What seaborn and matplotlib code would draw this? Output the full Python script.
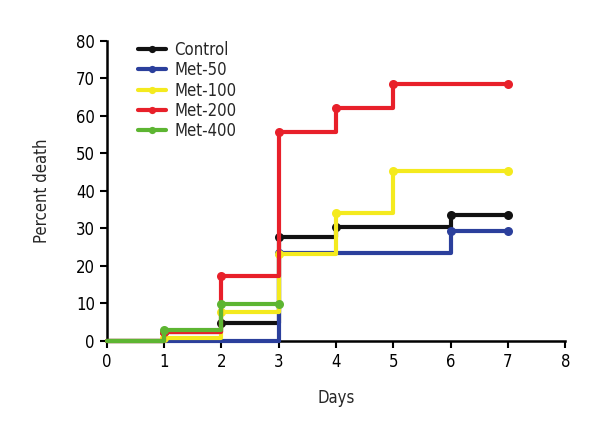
import pandas as pd
import matplotlib
matplotlib.use('Agg')
import matplotlib.pyplot as plt
import seaborn as sns

# Step points (day, percent death)
groups = ['Control', 'Met-50', 'Met-100', 'Met-200', 'Met-400']
control_days = [0, 1, 2, 3, 4, 6, 7]
control_vals = [0, 2.3, 4.7, 27.8, 30.3, 33.6, 33.6]
met50_days = [0, 3, 6, 7]
met50_vals = [0, 23.5, 29.3, 29.3]
met100_days = [0, 1, 2, 3, 4, 5, 7]
met100_vals = [0, 0.8, 7.8, 23.2, 34.2, 45.2, 45.2]
met200_days = [0, 1, 2, 3, 4, 5, 7]
met200_vals = [0, 2.5, 17.2, 55.8, 62.0, 68.5, 68.5]
met400_days = [0, 1, 2, 3]
met400_vals = [0, 2.9, 9.8, 9.8]

colors = {'Control': '#111111', 'Met-50': '#2b3f9c', 'Met-100': '#f4ea1e',
          'Met-200': '#e8202a', 'Met-400': '#5db532'}

series = [(control_days, control_vals), (met50_days, met50_vals),
          (met100_days, met100_vals), (met200_days, met200_vals),
          (met400_days, met400_vals)]
frames = []
for name, (d, v) in zip(groups, series):
    frames.append(pd.DataFrame({'Days': d, 'Percent death': v, 'Group': name}))
df = pd.concat(frames, ignore_index=True)

sns.set_theme(style='ticks')
plt.rcParams['font.family'] = ['DejaVu Sans']
plt.rcParams['font.stretch'] = 'condensed'

fig = plt.figure(figsize=(6, 4.4), dpi=100)
ax = fig.add_axes([0.178, 0.225, 0.764, 0.682])

for name in groups:
    sub = df[df['Group'] == name]
    sns.lineplot(data=sub, x='Days', y='Percent death', color=colors[name],
                 drawstyle='steps-post', marker='o', markersize=6.5,
                 markeredgewidth=0, linewidth=3.0, markevery=list(range(1, len(sub))),
                 label=name, ax=ax, estimator=None, sort=False,
                 zorder=3, clip_on=False)

ax.set_xlim(0, 8)
ax.set_ylim(0, 80)
ax.set_xticks(range(0, 9))
ax.set_yticks(range(0, 81, 10))
ax.set_xlabel('Days', fontsize=12, labelpad=13)
ax.set_ylabel('Percent death', fontsize=12, labelpad=18)
ax.tick_params(labelsize=12, direction='out', length=5, width=1.5, colors='black')
for s in ['top', 'right']:
    ax.spines[s].set_visible(False)
for s in ['left', 'bottom']:
    ax.spines[s].set_linewidth(1.8)
    ax.spines[s].set_color('black')

ax.legend(loc='upper left', bbox_to_anchor=(0.035, 1.05), frameon=False,
          fontsize=12, handlelength=1.7, handletextpad=0.5, labelspacing=0.14,
          markerscale=0.8)

plt.savefig('out.png', dpi=100)
plt.close()
